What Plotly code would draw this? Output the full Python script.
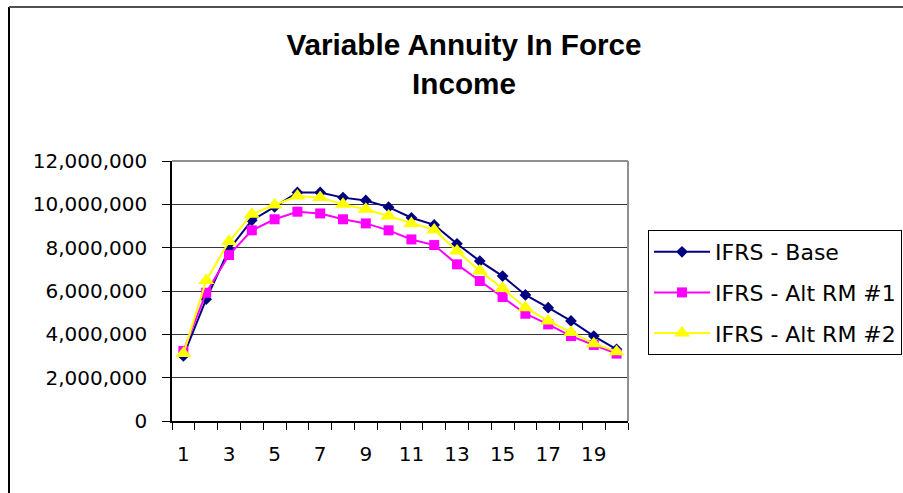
import plotly.graph_objects as go

periods = list(range(1, 21))
base = [3.00e6, 5.62e6, 7.92e6, 9.26e6, 9.88e6, 10.55e6, 10.55e6, 10.31e6, 10.18e6, 9.87e6,
        9.38e6, 9.05e6, 8.18e6, 7.38e6, 6.69e6, 5.82e6, 5.23e6, 4.62e6, 3.92e6, 3.31e6]
alt1 = [3.23e6, 5.92e6, 7.66e6, 8.80e6, 9.31e6, 9.66e6, 9.58e6, 9.31e6, 9.12e6, 8.80e6,
        8.38e6, 8.12e6, 7.23e6, 6.46e6, 5.72e6, 4.95e6, 4.46e6, 3.92e6, 3.51e6, 3.11e6]
alt2 = [3.11e6, 6.49e6, 8.28e6, 9.54e6, 9.97e6, 10.38e6, 10.31e6, 10.00e6, 9.77e6, 9.46e6,
        9.12e6, 8.82e6, 7.85e6, 6.92e6, 6.12e6, 5.23e6, 4.62e6, 4.08e6, 3.57e6, 3.20e6]
names = ["IFRS - Base", "IFRS - Alt RM #1", "IFRS - Alt RM #2"]
xtick_vals = [1, 3, 5, 7, 9, 11, 13, 15, 17, 19]
ytick_vals = [0, 2e6, 4e6, 6e6, 8e6, 10e6, 12e6]

W, H = 903, 493
L, R, T, B = 172, 628, 161, 421

fig = go.Figure()
styles = [
    dict(color="#000080", symbol="diamond", size=9),
    dict(color="#FF00FF", symbol="square", size=10),
    dict(color="#FFFF00", symbol="triangle-up", size=14),
]
for name, ys, st in zip(names, [base, alt1, alt2], styles):
    fig.add_trace(go.Scatter(
        x=periods, y=ys, name=name, mode="lines+markers",
        legendgroup=name,
        line=dict(color=st["color"], width=2),
        marker=dict(color=st["color"], symbol=st["symbol"], size=st["size"],
                    line=dict(width=0)),
    ))

pw = R - L
ph = B - T

def px_to_xpaper(x):
    return (x - L) / pw

def px_to_ypaper(y):
    return (B - y) / ph

shapes = [
    dict(type="line", xref="paper", yref="paper", x0=0, x1=1, y0=1, y1=1,
         line=dict(color="#909090", width=2)),
    dict(type="line", xref="paper", yref="paper", x0=1, x1=1, y0=0, y1=1,
         line=dict(color="#909090", width=2)),
    dict(type="line", xref="paper", yref="paper",
         x0=px_to_xpaper(9), x1=px_to_xpaper(9), y0=px_to_ypaper(500), y1=px_to_ypaper(7),
         line=dict(color="#000000", width=2)),
    dict(type="line", xref="paper", yref="paper",
         x0=px_to_xpaper(9), x1=px_to_xpaper(910), y0=px_to_ypaper(7), y1=px_to_ypaper(7),
         line=dict(color="#505050", width=2)),
]

fig.update_layout(
    width=W, height=H,
    margin=dict(l=L, r=W - R, t=T, b=H - B, pad=0, autoexpand=False),
    paper_bgcolor="white", plot_bgcolor="white",
    font=dict(family="DejaVu Sans", size=20, color="black"),
    title=dict(
        text="Variable Annuity In Force<br>Income",
        font=dict(family="Liberation Sans", size=29.7, color="black", weight="bold"),
        x=464 / W, xanchor="center", xref="container",
        y=1 - 55 / H, yanchor="middle", yref="container",
    ),
    showlegend=True,
    legend=dict(
        x=648 / W, xanchor="left", xref="container",
        y=1 - 230 / H, yanchor="top", yref="container",
        bordercolor="black", borderwidth=1, bgcolor="white",
        font=dict(family="DejaVu Sans", size=22, color="black"),
        itemwidth=56, tracegroupgap=9, traceorder="grouped",
    ),
    xaxis=dict(
        range=[0.5, 20.5], tickmode="array", tickvals=xtick_vals,
        ticktext=[str(v) for v in xtick_vals],
        ticks="outside", ticklen=7, tickcolor="rgba(0,0,0,0)",
        showgrid=False, zeroline=False,
        showline=True, linecolor="black", linewidth=1.5,
        ticklabelstandoff=7,
        minor=dict(tickmode="linear", tick0=0.5, dtick=1, ticks="outside",
                   ticklen=7, tickcolor="black", tickwidth=1, showgrid=False),
        fixedrange=True,
    ),
    yaxis=dict(
        range=[0, 12e6], tickmode="array", tickvals=ytick_vals,
        tickformat=",d", ticks="outside", ticklen=8, tickcolor="black",
        showgrid=True, gridcolor="#353535", gridwidth=1,
        zeroline=False, showline=True, linecolor="black", linewidth=1.5,
        ticklabelstandoff=11,
        fixedrange=True,
    ),
    shapes=shapes,
)

fig.write_html("out.html", config={"displayModeBar": False},
               post_script="document.body.style.margin='0';")
